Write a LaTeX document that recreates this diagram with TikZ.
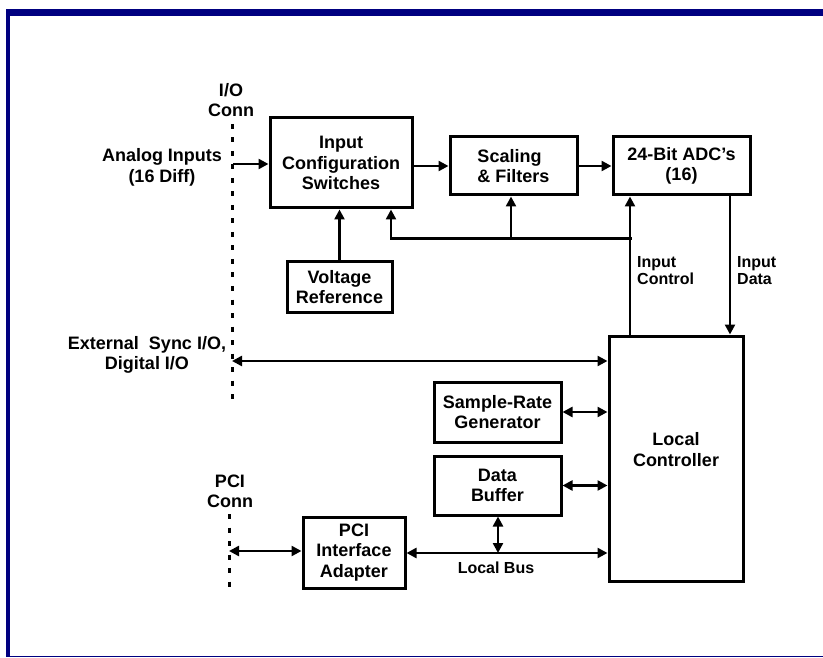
\documentclass[tikz,border=0pt]{standalone}
\usepackage{fontspec}
\setmainfont{Liberation Sans}
\usetikzlibrary{arrows.meta}
\definecolor{navyb}{HTML}{000080}
\newcommand\bfbigtxt{\fontsize{18}{20.5}\selectfont\bfseries}
\newcommand\bfsmalltxt{\fontsize{16}{17.5}\selectfont\bfseries}
\begin{document}
\begin{tikzpicture}[x=1pt,y=-1pt,
  blk/.style={draw,line width=3pt,rectangle,inner sep=0pt,font=\bfbigtxt,align=center},
  arr/.style={line width=2.4pt,-{Triangle[length=10pt,width=10pt]}},
  barr/.style={line width=2.4pt,{Triangle[length=10pt,width=10pt]}-{Triangle[length=10pt,width=10pt]}},
  conn/.style={line width=3pt,dash pattern=on 5pt off 8.5pt},
  lbl/.style={font=\bfbigtxt,align=center,inner sep=0pt},
  slbl/.style={font=\bfsmalltxt,align=left,inner sep=0pt}]
\useasboundingbox (0,0) rectangle (823,658);
\fill[white] (0,0) rectangle (823,658);
% frame
\fill[navyb] (6,9) rectangle (823,16);
\fill[navyb] (6,9) rectangle (10,657);
\draw[navyb,line width=1pt] (6,656.5) -- (823,656.5);

% blocks
\node[blk,minimum width=142pt,minimum height=90pt] (ics) at (341,163) {Input\\Configuration\\Switches};
\node[blk,minimum width=105pt,minimum height=50pt] (vr) at (339.5,287) {Voltage\\Reference};
\node[blk,align=left,minimum width=127pt,minimum height=58pt] (sf) at (513.5,166) {Scaling\\\& Filters};
\node[blk,minimum width=137pt,minimum height=58pt] (adc) at (681.5,166) {24-Bit ADC’s\\(16)};
\node[blk,minimum width=134pt,minimum height=245pt,text depth=18pt] (lc) at (676,458.5) {Local\\Controller};
\node[blk,minimum width=127pt,minimum height=60pt] (srg) at (497.5,412) {Sample-Rate\\Generator};
\node[blk,minimum width=127pt,minimum height=59pt] (db) at (497.5,485.5) {Data\\Buffer};
\node[blk,minimum width=102pt,minimum height=71pt] (pci) at (354,552.5) {PCI\\Interface\\Adapter};

% coordinates
\coordinate (iotop) at (232,124);
\coordinate (iobot) at (232,403);
\coordinate (pcitop) at (229,514);
\coordinate (pcibot) at (229,594);
\coordinate (ain) at (233,164);
\coordinate (ext) at (232,361);
\coordinate (pcc) at (229,551);
\coordinate (fbL) at (391,239);
\coordinate (fbM) at (511,239);
\coordinate (fbR) at (630,239);
\coordinate (idx) at (730,0);
\coordinate (bus) at (498,553);

% connector lines
\draw[conn] (iotop) -- (iobot);
\draw[conn] (pcitop) -- (pcibot);

% arrows
\draw[arr] (ain) -- (ain -| ics.west);
\draw[arr] (ics.east |- sf.west) -- (sf.west);
\draw[arr] (sf.east) -- (adc.west);
\draw[arr] (vr.north) -- (vr.north |- ics.south);
\draw[arr] (lc.north -| fbR) -- (adc.south -| fbR);
\draw[line width=3pt,line cap=rect] (fbR) -- (fbL);
\draw[arr] (fbL) -- (fbL |- ics.south);
\draw[arr] (fbM) -- (fbM |- sf.south);
\draw[arr] (adc.south -| idx) -- (lc.north -| idx);
\draw[barr] (ext) -- (ext -| lc.west);
\draw[barr] (srg.east) -- (srg.east -| lc.west);
\draw[barr] (db.east) -- (db.east -| lc.west);
\draw[barr] (pcc) -- (pcc -| pci.west);
\draw[barr] (pci.east |- bus) -- (bus -| lc.west);
\draw[barr] (db.south -| bus) -- (bus);

% labels
\node[lbl] (ioc) at (231,100) {I/O\\Conn};
\node[lbl] (ainl) at (162,167.5) {Analog Inputs\\(16 Diff)};
\node[lbl] (extl) at (147,355) {External\ \ Sync I/O,\\Digital I/O};
\node[lbl] (pcic) at (230,491.5) {PCI\\Conn};
\node[slbl,anchor=west] (ictl) at (637,270.5) {Input\\Control};
\node[slbl,anchor=west] (idat) at (737,270.5) {Input\\Data};
\node[font=\bfsmalltxt,inner sep=0pt] (lbus) at (496,568) {Local Bus};
\end{tikzpicture}
\end{document}
